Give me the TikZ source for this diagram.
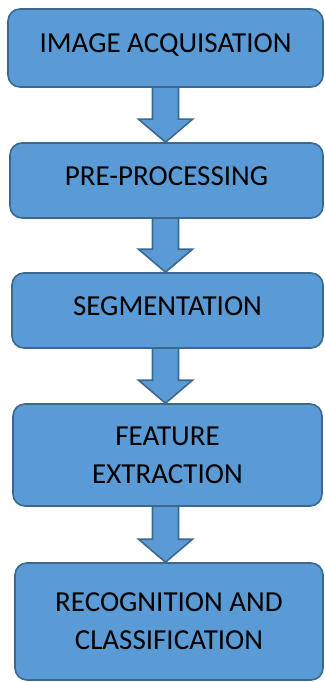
\documentclass[tikz,border=0pt]{standalone}
\usepackage{fontspec}
\setmainfont{Carlito}
\usetikzlibrary{calc,backgrounds}
\definecolor{boxfill}{HTML}{5B9BD5}
\definecolor{boxline}{HTML}{3A6890}
\tikzset{
  stagebox/.style={draw=boxline, fill=boxfill, line width=1.6pt,
    rounded corners=12pt, align=center, text=black,
    font=\fontsize{29}{38}\selectfont, inner sep=0pt},
  oneline/.style={text height=19pt, text depth=10pt},
  flowarrow/.style={draw=boxline, fill=boxfill, line width=1.6pt, line join=miter},
}
\begin{document}
\begin{tikzpicture}[x=1pt,y=-1pt]
  \useasboundingbox (0,0) rectangle (324,682);

  \node[stagebox, oneline, minimum width=315pt, minimum height=78pt]
    (acq) at (165.5,48) {IMAGE ACQUISATION};
  \node[stagebox, oneline, minimum width=313pt, minimum height=75pt]
    (pre) at (166.5,180.5) {PRE-PROCESSING};
  \node[stagebox, oneline, minimum width=311pt, minimum height=75pt]
    (seg) at (167.5,310.5) {SEGMENTATION};
  \node[stagebox, minimum width=309pt, minimum height=102pt]
    (feat) at (167.5,455) {FEATURE\\EXTRACTION};
  \node[stagebox, minimum width=308pt, minimum height=117pt]
    (rec) at (169,621.5) {RECOGNITION AND\\CLASSIFICATION};

  % block arrows between consecutive stages, drawn behind the boxes
  \begin{pgfonlayer}{background}
    \foreach \a/\b in {acq/pre, pre/seg, seg/feat, feat/rec}{
      \path let \p1=(\a.south), \p2=(\b.north) in
        coordinate (top) at (165.5,\y1)
        coordinate (tip) at (165.5,\y2);
      \draw[flowarrow]
        ($(top)+(-13,-4)$) -- ($(tip)+(-13,-23)$) -- ($(tip)+(-27,-23)$)
        -- (tip) -- ($(tip)+(27,-23)$) -- ($(tip)+(13,-23)$)
        -- ($(top)+(13,-4)$) -- cycle;
    }
  \end{pgfonlayer}
\end{tikzpicture}
\end{document}
